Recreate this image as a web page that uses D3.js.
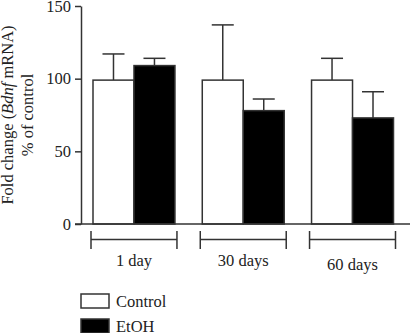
<!DOCTYPE html>
<html>
<head>
<meta charset="utf-8">
<script src="https://cdn.jsdelivr.net/npm/d3@7"></script>
<style>
  body { margin: 0; background: #fff; }
  svg text { font-family: "Liberation Serif", "DejaVu Serif", serif; font-size: 16.5px; fill: #222; }
  .axis path, .axis line { stroke: #333; stroke-width: 1.5px; }
  .axis .domain { stroke: #333; }
</style>
</head>
<body>
<svg id="chart"></svg>
<script>
// Data
const groups = ['1 day', '30 days', '60 days'];
const series = ['Control', 'EtOH'];
const controlMeans = [99, 99, 99];
const controlErr = [117, 137, 114];     // top of error bar
const etohMeans = [109, 78, 73];
const etohErr = [114, 86, 91];
const yTicks = [0, 50, 100, 150];
const colors = ['#ffffff', '#000000'];

const width = 410, height = 333;
const svg = d3.select('#chart').attr('width', width).attr('height', height);

// Scales
const yScale = d3.scaleLinear().domain([0, 150]).range([224, 6]);
const xScale = d3.scaleBand().domain(groups).range([93, 393.5]).paddingInner(0.25).paddingOuter(0);
const xSub = d3.scaleBand().domain(series).range([0, xScale.bandwidth()]);
const color = d3.scaleOrdinal().domain(series).range(colors);

const rows = [];
groups.forEach((g, i) => {
  rows.push({group: g, series: 'Control', value: controlMeans[i], err: controlErr[i]});
  rows.push({group: g, series: 'EtOH', value: etohMeans[i], err: etohErr[i]});
});

// Error bars (drawn first so the bar outline sits on top)
const errG = svg.append('g');
errG.selectAll('.err')
    .data(rows)
  .join('line')
    .attr('class', 'err')
    .attr('x1', d => xScale(d.group) + xSub(d.series) + xSub.bandwidth() / 2)
    .attr('x2', d => xScale(d.group) + xSub(d.series) + xSub.bandwidth() / 2)
    .attr('y1', d => yScale(d.value))
    .attr('y2', d => yScale(d.err))
    .attr('stroke', '#333').attr('stroke-width', 1.5);
errG.selectAll('.cap')
    .data(rows)
  .join('line')
    .attr('class', 'cap')
    .attr('x1', d => xScale(d.group) + xSub(d.series) + xSub.bandwidth() / 2 - 11)
    .attr('x2', d => xScale(d.group) + xSub(d.series) + xSub.bandwidth() / 2 + 11)
    .attr('y1', d => yScale(d.err))
    .attr('y2', d => yScale(d.err))
    .attr('stroke', '#333').attr('stroke-width', 1.5);

// Bars
svg.append('g').selectAll('.bar')
    .data(rows)
  .join('rect')
    .attr('class', 'bar')
    .attr('x', d => xScale(d.group) + xSub(d.series))
    .attr('width', xSub.bandwidth())
    .attr('y', d => yScale(d.value))
    .attr('height', d => yScale(0) - yScale(d.value))
    .attr('fill', d => color(d.series))
    .attr('stroke', '#333').attr('stroke-width', 1.5);

// Y axis
const yAxis = d3.axisLeft(yScale).tickValues(yTicks).tickSize(6).tickPadding(4).tickSizeOuter(0);
const yAxisG = svg.append('g')
    .attr('class', 'axis y-axis')
    .attr('transform', 'translate(81,0)')
    .call(yAxis);
yAxisG.selectAll('text').attr('fill', '#222').style('font-size', '16.5px');

// Baseline runs to the right edge
svg.append('line')
    .attr('x1', 75).attr('x2', width)
    .attr('y1', yScale(0)).attr('y2', yScale(0))
    .attr('stroke', '#333').attr('stroke-width', 1.5);

// Group brackets and labels
const bracket = svg.append('g').selectAll('g')
    .data(groups)
  .join('g')
    .attr('transform', d => `translate(${xScale(d) - 2},0)`);
const bw = xScale.bandwidth() + 4;
bracket.append('line')
    .attr('x1', 0).attr('x2', bw).attr('y1', 239.5).attr('y2', 239.5)
    .attr('stroke', '#333').attr('stroke-width', 1.5);
bracket.append('line')
    .attr('x1', 0).attr('x2', 0).attr('y1', 231).attr('y2', 249)
    .attr('stroke', '#333').attr('stroke-width', 1.5);
bracket.append('line')
    .attr('x1', bw).attr('x2', bw).attr('y1', 231).attr('y2', 249)
    .attr('stroke', '#333').attr('stroke-width', 1.5);
bracket.append('text')
    .attr('x', bw / 2)
    .attr('y', (d, i) => i === 2 ? 270 : 266)
    .attr('text-anchor', 'middle')
    .text(d => d);

// Y axis title (two lines, Bdnf in italics)
const title = svg.append('text')
    .attr('transform', 'translate(13,115) rotate(-90)')
    .attr('text-anchor', 'middle');
title.append('tspan').attr('x', 0).attr('y', 0).text('Fold change (');
title.append('tspan').style('font-style', 'italic').text('Bdnf');
title.append('tspan').text(' mRNA)');
svg.append('text')
    .attr('transform', 'translate(33,115) rotate(-90)')
    .attr('text-anchor', 'middle')
    .text('% of control');

// Legend
const legend = svg.append('g').selectAll('g')
    .data(series)
  .join('g')
    .attr('transform', (d, i) => `translate(81,${294 + i * 25})`);
legend.append('rect')
    .attr('width', 28).attr('height', 14)
    .attr('fill', d => color(d))
    .attr('stroke', '#333').attr('stroke-width', 1.5);
legend.append('text')
    .attr('x', 35).attr('y', 13)
    .text(d => d);
</script>
</body>
</html>
